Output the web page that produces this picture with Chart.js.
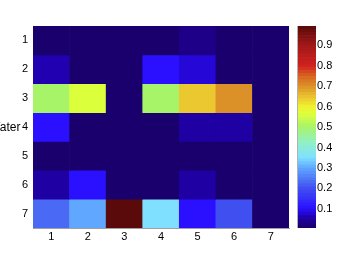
<!DOCTYPE html>
<html>
<head>
<meta charset="utf-8">
<script src="https://cdn.jsdelivr.net/npm/chart.js@4.4.0/dist/chart.umd.min.js"></script>
<style>
  html, body { margin: 0; padding: 0; background: #fff; }
  #wrap { position: relative; width: 350px; height: 257px; overflow: hidden; }
  .box { position: absolute; top: 0; height: 257px; }
</style>
</head>
<body>
<div id="wrap">
  <div class="box" style="left:0;width:290px"><canvas id="main"></canvas></div>
  <div class="box" style="left:290px;width:60px"><canvas id="cbar"></canvas></div>
</div>
<script>
const xLabels = ['1', '2', '3', '4', '5', '6', '7'];
const yLabels = ['1', '2', '3', '4', '5', '6', '7'];
const yTitle = 'Water';

// one array per row
const row1 = [0.01, 0.01, 0.01, 0.01, 0.03, 0.01, 0.01];
const row2 = [0.06, 0.01, 0.01, 0.10, 0.08, 0.01, 0.01];
const row3 = [0.50, 0.56, 0.01, 0.50, 0.64, 0.70, 0.01];
const row4 = [0.10, 0.01, 0.01, 0.01, 0.05, 0.05, 0.01];
const row5 = [0.01, 0.01, 0.01, 0.01, 0.01, 0.01, 0.01];
const row6 = [0.05, 0.10, 0.01, 0.01, 0.05, 0.01, 0.01];
const row7 = [0.23, 0.30, 0.99, 0.35, 0.10, 0.20, 0.01];
const rows = [row1, row2, row3, row4, row5, row6, row7];

const cbarMin = 0.007;
const cbarMax = 0.993;
const cbarTicks = [0.1, 0.2, 0.3, 0.4, 0.5, 0.6, 0.7, 0.8, 0.9];
const cbarLevels = 64;

// colormap as seen on the colorbar
const cmapStops = [
  [0.007, '#1a0068'], [0.06, '#2000b0'], [0.10, '#2a10ff'], [0.20, '#4050f0'],
  [0.30, '#60a8ff'], [0.35, '#80e0ff'], [0.42, '#90f0c8'], [0.50, '#a8f468'],
  [0.56, '#dcff3c'], [0.60, '#f0f030'], [0.64, '#ecc830'], [0.70, '#dc9028'],
  [0.75, '#d86020'], [0.80, '#d02020'], [0.90, '#a01818'], [0.993, '#580a0a']
];

function hexToRgb(h) {
  return [parseInt(h.slice(1, 3), 16), parseInt(h.slice(3, 5), 16), parseInt(h.slice(5, 7), 16)];
}

function colorFor(v) {
  if (v <= cmapStops[0][0]) return cmapStops[0][1];
  for (let i = 1; i < cmapStops.length; i++) {
    if (v <= cmapStops[i][0]) {
      const a = cmapStops[i - 1], b = cmapStops[i];
      const t = (v - a[0]) / (b[0] - a[0]);
      const ca = hexToRgb(a[1]), cb = hexToRgb(b[1]);
      const c = ca.map((x, k) => Math.round(x + (cb[k] - x) * t));
      return 'rgb(' + c.join(',') + ')';
    }
  }
  return cmapStops[cmapStops.length - 1][1];
}

const font = { family: '"Liberation Sans", Arial, sans-serif', size: 11 };

// horizontal y label, partly cut off at the left edge like the original
const yTitlePlugin = {
  id: 'yTitle',
  afterDraw(chart) {
    const ctx = chart.ctx;
    const y = chart.scales.y.getPixelForValue(4);
    ctx.save();
    ctx.font = '12px ' + font.family;
    ctx.fillStyle = '#000';
    ctx.textAlign = 'right';
    ctx.textBaseline = 'middle';
    ctx.fillText(yTitle, 20.5, y + 1);
    ctx.restore();
  }
};

// border line on the colorbar's left side
const cbarEdge = {
  id: 'cbarEdge',
  afterDraw(chart) {
    const a = chart.chartArea, ctx = chart.ctx;
    ctx.save();
    ctx.strokeStyle = '#b0b0b0';
    ctx.lineWidth = 1;
    ctx.beginPath();
    ctx.moveTo(a.left - 0.5, a.top);
    ctx.lineTo(a.left - 0.5, a.bottom);
    ctx.stroke();
    ctx.restore();
  }
};

new Chart(document.getElementById('main'), {
  type: 'bar',
  data: {
    labels: xLabels,
    datasets: rows.map((vals, r) => ({
      label: yLabels[r],
      data: vals.map(() => [r + 0.5, r + 1.5]),
      backgroundColor: vals.map(colorFor),
      borderWidth: 0,
      barPercentage: 1,
      categoryPercentage: 1
    }))
  },
  options: {
    responsive: true,
    maintainAspectRatio: false,
    animation: false,
    layout: { padding: { top: 26, right: 1, left: 0, bottom: 0 } },
    plugins: { legend: { display: false }, tooltip: { enabled: false } },
    scales: {
      x: {
        stacked: true,
        grid: { display: false, drawTicks: false },
        border: { display: true, color: '#a0a0a0', width: 1 },
        ticks: { color: '#000', font: font, padding: 2 },
        afterFit(scale) { scale.height = 29; }
      },
      y: {
        stacked: false,
        reverse: true,
        min: 0.5,
        max: 7.5,
        grid: { display: false, drawTicks: false },
        border: { display: true, color: '#a0a0a0', width: 1 },
        ticks: {
          color: '#000', font: font, padding: 5,
          callback: (v) => yLabels[v - 1]
        },
        afterBuildTicks(scale) { scale.ticks = yLabels.map((l, i) => ({ value: i + 1 })); },
        afterFit(scale) { scale.width = 33; }
      }
    }
  },
  plugins: [yTitlePlugin]
});

// colorbar
const step = (cbarMax - cbarMin) / cbarLevels;
const cbarSets = [];
for (let i = 0; i < cbarLevels; i++) {
  const lo = cbarMin + i * step;
  cbarSets.push({
    data: [[lo, lo + step]],
    backgroundColor: colorFor(lo + step / 2),
    borderWidth: 0,
    barPercentage: 1,
    categoryPercentage: 1
  });
}

new Chart(document.getElementById('cbar'), {
  type: 'bar',
  data: { labels: [''], datasets: cbarSets },
  options: {
    responsive: true,
    maintainAspectRatio: false,
    animation: false,
    layout: { padding: { top: 26, left: 8, right: 0, bottom: 29 } },
    plugins: { legend: { display: false }, tooltip: { enabled: false } },
    scales: {
      x: { display: false, stacked: true },
      y: {
        position: 'right',
        stacked: false,
        min: cbarMin,
        max: cbarMax,
        grid: { display: false, drawTicks: false },
        border: { display: false },
        ticks: { color: '#000', font: font, padding: 1, callback: (v) => String(v) },
        afterBuildTicks(scale) { scale.ticks = cbarTicks.map(v => ({ value: v })); },
        afterFit(scale) { scale.width = 34; }
      }
    }
  },
  plugins: [cbarEdge]
});
</script>
</body>
</html>
